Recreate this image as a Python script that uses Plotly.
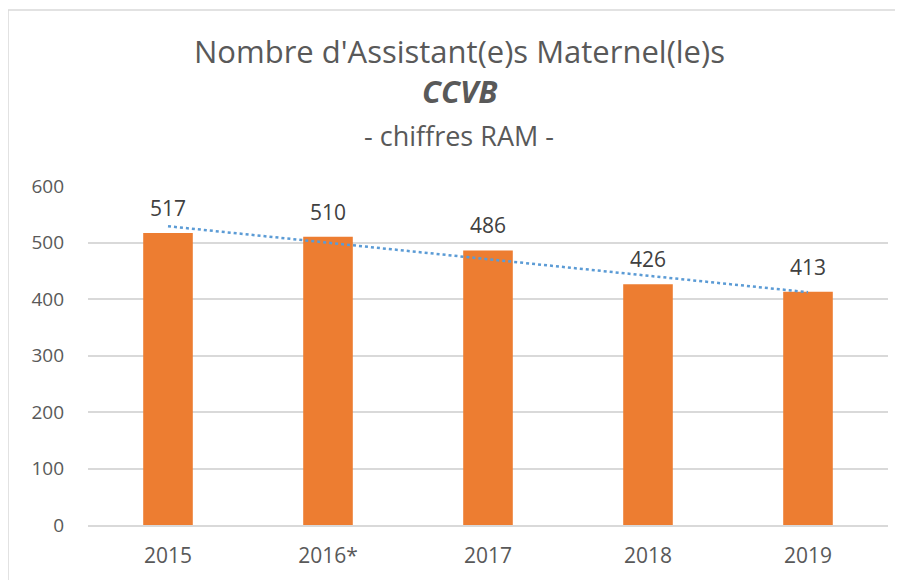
import plotly.graph_objects as go
import numpy as np

categories = ["2015", "2016*", "2017", "2018", "2019"]
values = [517, 510, 486, 426, 413]
y_ticks = [0, 100, 200, 300, 400, 500, 600]

# linear trendline (least squares) as in the spreadsheet chart
xi = np.arange(len(values))
slope, intercept = np.polyfit(xi, values, 1)
trend = [intercept + slope * i for i in xi]

FONT = "Open Sans"
H = 339.0
TX = (459 - 88) / 800.0
fig = go.Figure()
fig.add_trace(go.Bar(
    x=categories, y=values, marker=dict(color="#ED7D31", line=dict(width=0)),
    hoverinfo="skip", showlegend=False,
))
fig.add_trace(go.Scatter(
    x=categories, y=trend, mode="lines",
    line=dict(color="#5B9BD5", width=2.5, dash="dot"),
    hoverinfo="skip", showlegend=False,
))
for i, v in enumerate(values):
    fig.add_annotation(x=i, y=v, text=str(v), showarrow=False, yshift=25,
                       font=dict(family=FONT, size=21, color="#404040"))

fig.add_annotation(xref="paper", yref="paper", x=TX, y=(525-51)/H, text="Nombre d'Assistant(e)s Maternel(le)s",
                   showarrow=False, font=dict(family=FONT, size=31, color="#595959"), yanchor="middle")
fig.add_annotation(xref="paper", yref="paper", x=TX, y=(525-91)/H, text="<b><i>CCVB</i></b>",
                   showarrow=False, font=dict(family=FONT, size=31, color="#595959"), yanchor="middle")
fig.add_annotation(xref="paper", yref="paper", x=TX, y=(525-135)/H, text="- chiffres RAM -",
                   showarrow=False, font=dict(family=FONT, size=27, color="#595959"), yanchor="middle")

fig.add_shape(type="rect", xref="paper", yref="paper", x0=-0.1, x1=1.2, y0=-0.5, y1=(517-2)/H,
              line=dict(color="#D9D9D9", width=1.5), fillcolor="rgba(0,0,0,0)", layer="below")

fig.update_layout(
    width=903, height=580,
    margin=dict(l=80, r=23, t=178, b=63),
    paper_bgcolor="white", plot_bgcolor="white",
    bargap=0.69,
    font=dict(family=FONT, size=16, color="#595959"),
    xaxis=dict(type="category", range=[-0.5, 4.5], showgrid=False, showline=True, linecolor="#D9D9D9",
               linewidth=1.5, ticks="", tickfont=dict(size=21, color="#595959"), ticklabelstandoff=11),
    yaxis=dict(range=[0, 600], tickvals=y_ticks, showgrid=True, gridcolor="#D9D9D9", gridwidth=1.5,
               zeroline=False, showline=False, ticks="", tickfont=dict(size=19, color="#595959"),
               ticklabelstandoff=23),
)
fig.write_html("out.html")
